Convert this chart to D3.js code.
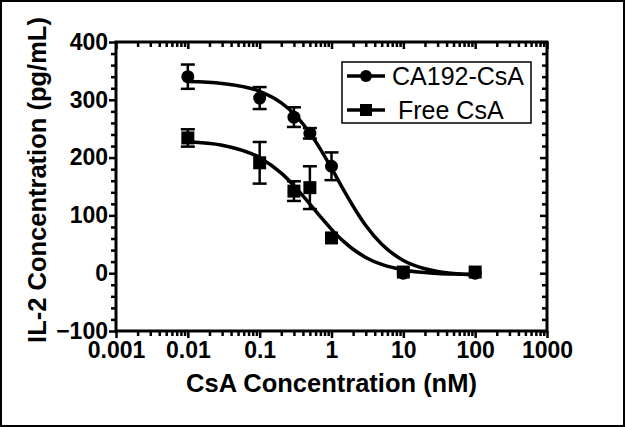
<!DOCTYPE html>
<head>
  <meta charset="utf-8">
  <script src="https://d3js.org/d3.v7.min.js"></script>
  <style>
body {
	margin:0;
	background:#fff;
	}
.tick text {
	font-family: "Liberation Sans", Arial, sans-serif;
	font-weight: bold;
	font-size: 23px;
	fill: #000;
	}
.axTitle {
	font-family: "Liberation Sans", Arial, sans-serif;
	font-weight: bold;
	font-size: 25.5px;
	}
.legText {
	font-family: "Liberation Sans", Arial, sans-serif;
	font-size: 25px;
	}
  </style>
</head>

<body>
<div id="graph"></div>
<script>
// Measured points (nM, pg/mL) with error bars
var conc = [0.01, 0.1, 0.3, 0.5, 1, 10, 100];
var ca192Mean = [340, 303, 270, 242, 185, 0, 0];
var ca192Err  = [21, 19, 17, 9, 24, 0, 0];
var freeMean  = [234, 191, 142, 148, 61, 2, 2];
var freeErr   = [15, 36, 17, 37, 0, 0, 0];

// Fitted curves
var fitConc = [0.01, 0.03, 0.1, 0.2, 0.3, 0.5, 0.7, 1, 1.5, 2, 3, 5, 10, 20, 30, 50, 100];
var ca192Fit = [331.6, 328.2, 314.7, 294.8, 276, 242.6, 214.8, 181.6, 142.4, 115.8, 82.4, 49.9, 22.1, 7.8, 3.1, -0.4, -2.9];
var freeFit  = [227.4, 221.4, 199.9, 173.2, 151.6, 119.7, 97.9, 75.9, 54.1, 41.4, 27.3, 15.1, 5.7, 1.1, -0.4, -1.5, -2.3];

var xTicks = [0.001, 0.01, 0.1, 1, 10, 100, 1000];
var yTicks = [-100, 0, 100, 200, 300, 400];

var W = 625, H = 427;
var plotL = 116, plotR = 547, plotT = 42, plotB = 331;

var x = d3.scaleLog().domain([0.001, 1000]).range([plotL, plotR]);
var y = d3.scaleLinear().domain([-100, 400]).range([plotB, plotT]);

var svg = d3.select("#graph").append("svg")
    .attr("width", W).attr("height", H)
    .style("display", "block");

// outer frame of the picture
svg.append("rect")
    .attr("x", 1).attr("y", 1).attr("width", W - 2).attr("height", H - 2)
    .attr("fill", "#fff").attr("stroke", "#000").attr("stroke-width", 2);

// minor ticks
var xMinor = [];
for (var e = -3; e < 3; e++) {
  for (var m = 2; m <= 9; m++) xMinor.push(m * Math.pow(10, e));
}
var yMinor = d3.range(-100, 401, 20).filter(function(v) { return v % 100 != 0; });

function styleAxis(g) {
  g.select(".domain").remove();
  g.selectAll(".tick line").attr("stroke", "#000").attr("stroke-width", 2.5);
}

// bottom axis (outward ticks)
svg.append("g").attr("transform", "translate(0," + plotB + ")")
    .call(d3.axisBottom(x).tickValues(xMinor).tickSize(5).tickFormat(""))
    .call(styleAxis);
svg.append("g").attr("transform", "translate(0," + plotB + ")")
    .call(d3.axisBottom(x).tickValues(xTicks).tickSize(7).tickPadding(4)
      .tickFormat(function(d) { return d3.format("~g")(d); }))
    .call(styleAxis);

// top axis (inward ticks)
svg.append("g").attr("transform", "translate(0," + plotT + ")")
    .call(d3.axisBottom(x).tickValues(xMinor).tickSize(5).tickFormat(""))
    .call(styleAxis);
svg.append("g").attr("transform", "translate(0," + plotT + ")")
    .call(d3.axisBottom(x).tickValues(xTicks).tickSize(7).tickFormat(""))
    .call(styleAxis);

// left axis (outward ticks)
svg.append("g").attr("transform", "translate(" + plotL + ",0)")
    .call(d3.axisLeft(y).tickValues(yMinor).tickSize(5).tickFormat(""))
    .call(styleAxis);
svg.append("g").attr("transform", "translate(" + plotL + ",0)")
    .call(d3.axisLeft(y).tickValues(yTicks).tickSize(7).tickPadding(1))
    .call(styleAxis);

// right axis (inward ticks)
svg.append("g").attr("transform", "translate(" + plotR + ",0)")
    .call(d3.axisLeft(y).tickValues(yMinor).tickSize(5).tickFormat(""))
    .call(styleAxis);
svg.append("g").attr("transform", "translate(" + plotR + ",0)")
    .call(d3.axisLeft(y).tickValues(yTicks).tickSize(7).tickFormat(""))
    .call(styleAxis);

// frame
svg.append("rect")
    .attr("x", plotL).attr("y", plotT)
    .attr("width", plotR - plotL).attr("height", plotB - plotT)
    .attr("fill", "none").attr("stroke", "#000").attr("stroke-width", 3);

// axis titles
svg.append("text").attr("class", "axTitle")
    .attr("x", (plotL + plotR) / 2).attr("y", 392)
    .attr("text-anchor", "middle")
    .text("CsA Concentration (nM)");
svg.append("text").attr("class", "axTitle")
    .attr("transform", "translate(46," + 180 + ") rotate(-90)")
    .attr("text-anchor", "middle")
    .text("IL-2 Concentration (pg/mL)");

// fitted curves
var line = d3.line()
    .x(function(d) { return x(d[0]); })
    .y(function(d) { return y(d[1]); })
    .curve(d3.curveMonotoneX);

[ca192Fit, freeFit].forEach(function(fit) {
  svg.append("path")
      .datum(d3.zip(fitConc, fit))
      .attr("d", line)
      .attr("fill", "none").attr("stroke", "#000").attr("stroke-width", 3.5);
});

// error bars + markers
function drawSeries(mean, err, shape) {
  var pts = conc.map(function(c, i) { return {c: c, m: mean[i], e: err[i]}; });
  var g = svg.append("g");
  pts.forEach(function(p) {
    if (p.e > 0) {
      var px = x(p.c);
      g.append("line").attr("x1", px).attr("x2", px)
          .attr("y1", y(p.m - p.e)).attr("y2", y(p.m + p.e))
          .attr("stroke", "#000").attr("stroke-width", 2.5);
      [p.m - p.e, p.m + p.e].forEach(function(v) {
        g.append("line").attr("x1", px - 7).attr("x2", px + 7)
            .attr("y1", y(v)).attr("y2", y(v))
            .attr("stroke", "#000").attr("stroke-width", 2.5);
      });
    }
  });
  pts.forEach(function(p) {
    if (shape == "circle") {
      g.append("circle").attr("cx", x(p.c)).attr("cy", y(p.m)).attr("r", 6.5).attr("fill", "#000");
    } else {
      g.append("rect").attr("x", x(p.c) - 6.5).attr("y", y(p.m) - 6.5)
          .attr("width", 13).attr("height", 13).attr("fill", "#000");
    }
  });
}
drawSeries(ca192Mean, ca192Err, "circle");
drawSeries(freeMean, freeErr, "square");

// legend
var leg = svg.append("g");
leg.append("rect").attr("x", 342).attr("y", 62).attr("width", 189).attr("height", 61)
    .attr("fill", "#fff").attr("stroke", "#000").attr("stroke-width", 1.5);
var legItems = [
  {name: "CA192-CsA", shape: "circle", y: 76, tx: 392},
  {name: "Free CsA", shape: "square", y: 110, tx: 398}
];
legItems.forEach(function(d) {
  leg.append("line").attr("x1", 347).attr("x2", 385).attr("y1", d.y).attr("y2", d.y)
      .attr("stroke", "#000").attr("stroke-width", 3.5);
  if (d.shape == "circle") {
    leg.append("circle").attr("cx", 366).attr("cy", d.y).attr("r", 6).attr("fill", "#000");
  } else {
    leg.append("rect").attr("x", 360).attr("y", d.y - 6).attr("width", 12).attr("height", 12).attr("fill", "#000");
  }
  leg.append("text").attr("class", "legText")
      .attr("x", d.tx).attr("y", d.y + 9)
      .text(d.name);
});
</script>
</body>
